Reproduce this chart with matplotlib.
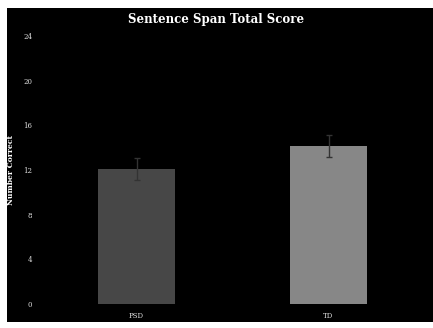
import matplotlib
matplotlib.use("Agg")
import matplotlib.pyplot as plt
from matplotlib.patches import Rectangle

# 데이터
groups = ["PSD", "TD"]
means = [12.1, 14.15]
errors = [1.0, 0.98]
bar_colors = ["#474747", "#878787"]
y_ticks = [0, 4, 8, 12, 16, 20, 24]

fig = plt.figure(figsize=(4.33, 3.28), dpi=100, facecolor="white")
# 검은 배경 (왼쪽/위/아래 흰 여백)
fig.patches.append(Rectangle((7 / 433, 6 / 328), 1 - 7 / 433, 314 / 328,
                             transform=fig.transFigure, facecolor="black",
                             edgecolor="none", zorder=-1))

ax = fig.add_axes([40.5 / 433, 24 / 328, 384 / 433, 268 / 328])
ax.set_zorder(2)
ax.set_facecolor("black")
x = range(len(groups))
ax.bar(x, means, width=0.4, color=bar_colors, zorder=2)
ax.errorbar(x, means, yerr=errors, fmt="none", ecolor="#333333",
            elinewidth=1, capsize=2.5, capthick=1, zorder=3)

ax.set_xlim(-0.5, 1.5)
ax.set_ylim(0, 24)
ax.set_yticks(y_ticks)
ax.set_xticks(list(x))
ax.set_xticklabels(groups)
for s in ax.spines.values():
    s.set_visible(False)
ax.tick_params(length=0, labelsize=5, colors="#dddddd", pad=6)
for lab in ax.get_xticklabels() + ax.get_yticklabels():
    lab.set_family("DejaVu Serif")
ax.set_ylabel("Number Correct", fontsize=5.5, fontweight="bold",
              color="white", family="DejaVu Serif", labelpad=6)

fig.text(0.5, 1 - 20 / 328, "Sentence Span Total Score", ha="center",
         va="center", fontsize=8.5, fontweight="bold", color="white",
         family="DejaVu Serif", zorder=3)

plt.savefig("out.png", dpi=100, facecolor="white")
